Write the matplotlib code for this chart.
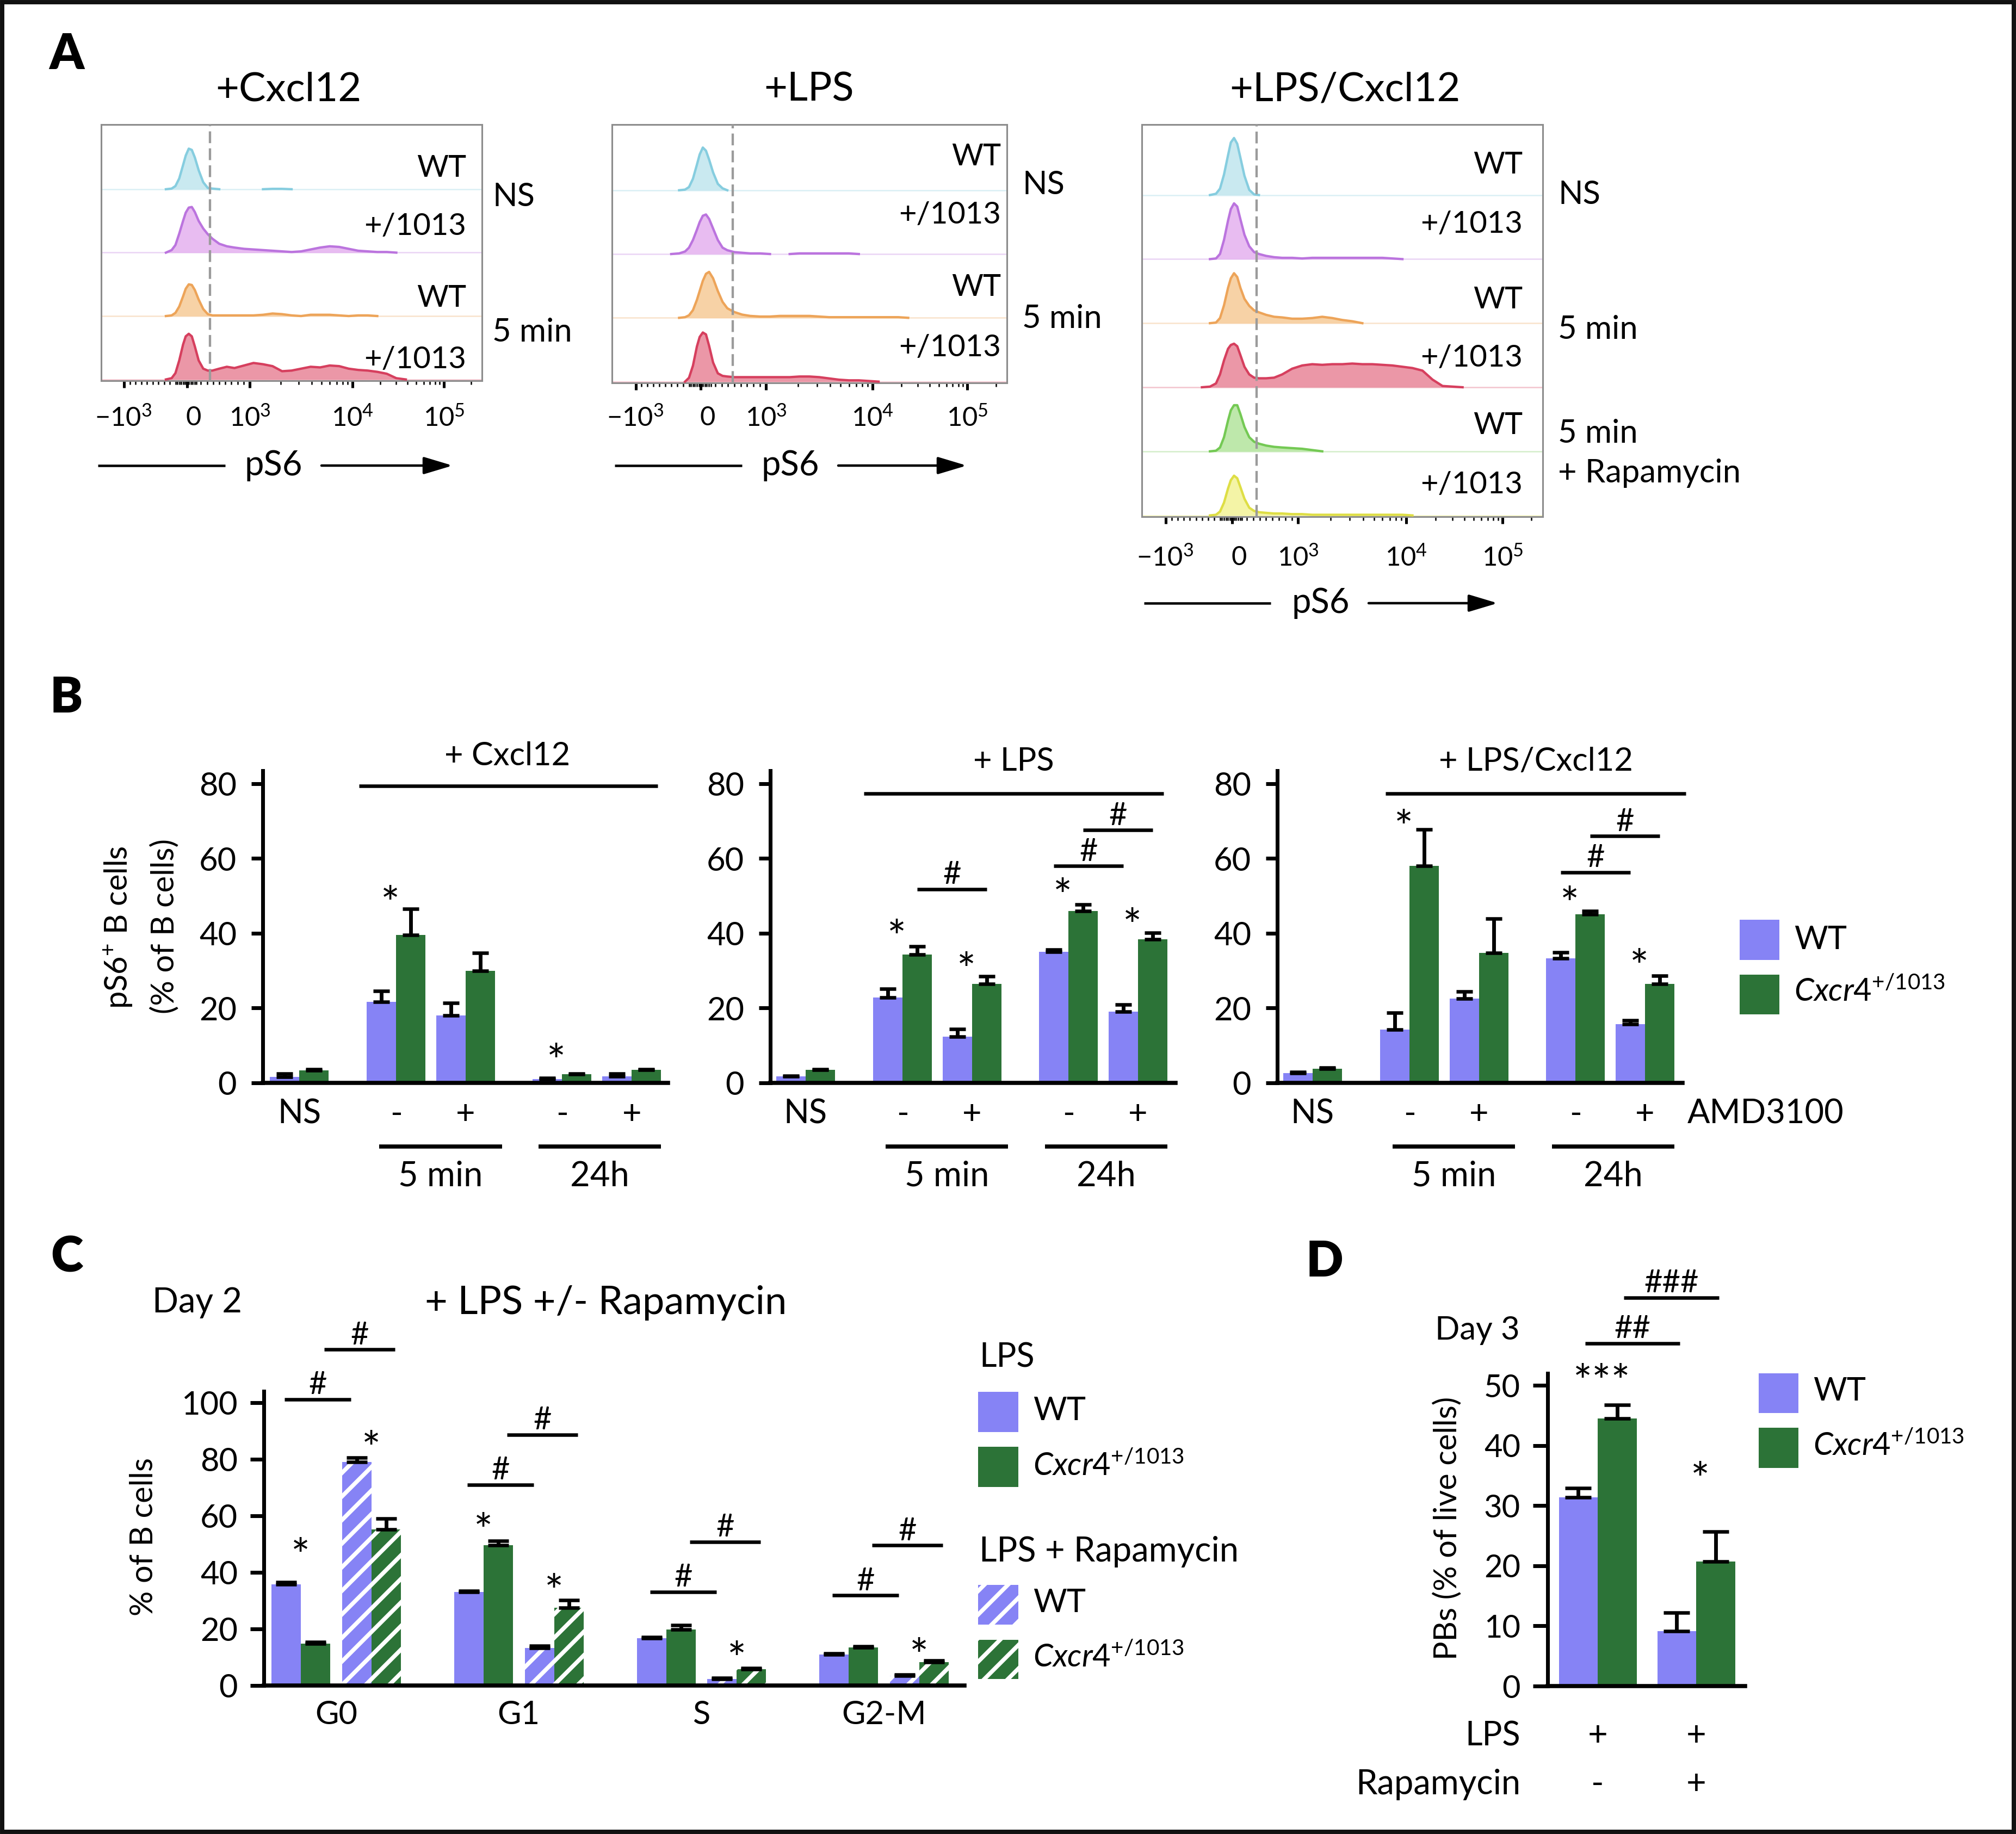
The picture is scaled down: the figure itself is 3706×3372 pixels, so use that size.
import numpy as np
import matplotlib
matplotlib.use('Agg')
import matplotlib.pyplot as plt
from matplotlib.patches import Rectangle

W, H = 3706, 3372
DPI = 130

plt.rcParams['font.family'] = ['Lato', 'DejaVu Sans']
plt.rcParams['mathtext.fontset'] = 'custom'
plt.rcParams['mathtext.rm'] = 'Lato'
plt.rcParams['mathtext.it'] = 'Lato:italic'
plt.rcParams['mathtext.bf'] = 'Lato:bold'
plt.rcParams['hatch.linewidth'] = 4.2

WT_COL = '#8683F5'
MUT_COL = '#2C7337'
MUT_LAB = r'$\mathit{Cxcr4}^{\mathit{+/1013}}$'

# ---------------- data ----------------
# panel A: flow histograms, heights as fraction of one row, on a channel grid (0-1000)
hist_ch = [150, 170, 185, 195, 205, 215, 222, 230, 238, 246, 256, 268, 280, 292, 310, 330, 350, 375,
           400, 425, 450, 475, 500, 525, 550, 575, 600, 625, 650, 675, 700, 725, 750, 775, 800]

cx_ns_wt = [0, 0, 0.01, 0.05, 0.17, 0.38, 0.53, 0.64, 0.62, 0.5, 0.3, 0.11, 0.02, 0.01, 0,
            0, 0, 0, 0, 0, 0.006, 0.006, 0, 0, 0, 0, 0, 0, 0, 0, 0, 0, 0, 0, 0]
cx_ns_mut = [0, 0, 0.04, 0.12, 0.3, 0.5, 0.63, 0.71, 0.72, 0.64, 0.5, 0.38, 0.29, 0.22, 0.14,
             0.1, 0.08, 0.06, 0.05, 0.04, 0.03, 0.02, 0.01, 0.02, 0.05, 0.08, 0.1, 0.09, 0.06, 0.03,
             0.02, 0.01, 0.01, 0, 0]
cx_5m_wt = [0, 0, 0.01, 0.05, 0.15, 0.31, 0.43, 0.5, 0.49, 0.41, 0.26, 0.11, 0.03, 0.01, 0.01,
            0.01, 0.01, 0.01, 0.01, 0.02, 0.04, 0.03, 0.01, 0, 0.02, 0.02, 0.02, 0.01, 0, 0.01,
            0.01, 0, 0, 0, 0]
cx_5m_mut = [0, 0, 0.02, 0.1, 0.3, 0.55, 0.68, 0.72, 0.68, 0.52, 0.3, 0.17, 0.14, 0.14, 0.17,
             0.2, 0.18, 0.22, 0.26, 0.24, 0.21, 0.13, 0.14, 0.17, 0.2, 0.19, 0.22, 0.21, 0.17, 0.15,
             0.14, 0.12, 0.09, 0.02, 0]

lps_ns_wt = [0, 0, 0.01, 0.05, 0.18, 0.4, 0.56, 0.67, 0.62, 0.48, 0.28, 0.1, 0.03, 0, 0,
             0, 0, 0, 0, 0, 0, 0, 0, 0, 0, 0, 0, 0, 0, 0, 0, 0, 0, 0, 0]
lps_ns_mut = [0, 0.01, 0.04, 0.1, 0.22, 0.38, 0.5, 0.6, 0.62, 0.55, 0.4, 0.22, 0.1, 0.06, 0.03,
              0.02, 0.01, 0.01, 0, 0, 0, 0.01, 0.01, 0.01, 0.01, 0.01, 0.01, 0, 0, 0,
              0, 0, 0, 0, 0]
lps_5m_wt = [0, 0, 0.01, 0.04, 0.12, 0.28, 0.42, 0.58, 0.69, 0.72, 0.62, 0.42, 0.25, 0.15, 0.09,
             0.05, 0.03, 0.02, 0.02, 0.03, 0.03, 0.03, 0.03, 0.02, 0.01, 0.01, 0.01, 0.01, 0.01, 0.01,
             0.01, 0.01, 0, 0, 0]
lps_5m_mut = [0, 0, 0, 0.06, 0.25, 0.55, 0.7, 0.77, 0.74, 0.56, 0.3, 0.13, 0.09, 0.08, 0.07,
              0.07, 0.07, 0.07, 0.07, 0.07, 0.07, 0.08, 0.08, 0.07, 0.05, 0.03, 0.02, 0.02, 0.01, 0,
              0, 0, 0, 0, 0]

lc_ns_wt = [0, 0, 0.02, 0.1, 0.32, 0.62, 0.82, 0.89, 0.8, 0.58, 0.3, 0.08, 0.01, 0, 0,
            0, 0, 0, 0, 0, 0, 0, 0, 0, 0, 0, 0, 0, 0, 0, 0, 0, 0, 0, 0]
lc_ns_mut = [0, 0, 0.01, 0.08, 0.3, 0.6, 0.78, 0.87, 0.82, 0.62, 0.38, 0.2, 0.11, 0.08, 0.05,
             0.03, 0.02, 0.02, 0.01, 0.02, 0.02, 0.02, 0.02, 0.02, 0.02, 0.02, 0.02, 0.01, 0, 0,
             0, 0, 0, 0, 0]
lc_5m_wt = [0, 0, 0.01, 0.08, 0.28, 0.55, 0.7, 0.78, 0.72, 0.55, 0.38, 0.27, 0.2, 0.17, 0.13,
            0.1, 0.09, 0.07, 0.07, 0.08, 0.1, 0.08, 0.05, 0.03, 0, 0, 0, 0, 0, 0,
            0, 0, 0, 0, 0]
lc_5m_mut = [0, 0.01, 0.06, 0.2, 0.42, 0.6, 0.66, 0.68, 0.64, 0.5, 0.32, 0.2, 0.15, 0.14, 0.14,
             0.15, 0.2, 0.29, 0.34, 0.36, 0.35, 0.36, 0.36, 0.37, 0.36, 0.36, 0.35, 0.34, 0.32, 0.3,
             0.26, 0.12, 0.02, 0.01, 0]
lc_rapa_wt = [0, 0, 0.01, 0.06, 0.22, 0.48, 0.64, 0.72, 0.72, 0.58, 0.38, 0.22, 0.15, 0.12, 0.09,
              0.07, 0.06, 0.05, 0.04, 0.02, 0, 0, 0, 0, 0, 0, 0, 0, 0, 0, 0, 0, 0, 0, 0]
lc_rapa_mut = [0, 0, 0.01, 0.06, 0.2, 0.42, 0.55, 0.62, 0.58, 0.44, 0.26, 0.12, 0.07, 0.05, 0.04,
               0.03, 0.03, 0.02, 0.02, 0.01, 0.01, 0.01, 0.01, 0.01, 0.01, 0.01, 0.01, 0.01, 0.01, 0,
               0, 0, 0, 0, 0]

# panel B: pS6+ B cells (% of B cells), groups NS, 5min -/+, 24h -/+
b_groups = ['NS', '-', '+', '-', '+']
cxcl_wt = [1.6, 21.7, 18.1, 1.0, 1.7]
cxcl_wt_err = [0.9, 2.9, 3.3, 0.3, 0.8]
cxcl_mut = [3.3, 39.6, 30.0, 2.3, 3.5]
cxcl_mut_err = [0.3, 6.9, 4.7, 0.2, 0.2]
lps_wt = [1.7, 22.8, 12.4, 35.1, 19.0]
lps_wt_err = [0.2, 2.4, 2.0, 0.5, 1.9]
lps_mut = [3.5, 34.3, 26.4, 46.0, 38.4]
lps_mut_err = [0.2, 2.2, 2.1, 1.7, 1.8]
lc_wt = [2.6, 14.2, 22.5, 33.3, 15.7]
lc_wt_err = [0.3, 4.6, 1.9, 1.6, 1.0]
lc_mut = [3.8, 58.0, 34.8, 45.1, 26.5]
lc_mut_err = [0.3, 9.8, 9.1, 0.9, 2.1]
# significance: stars (group, y) and '#' bars (group a, group b, genotype, y)
cxcl_stars = [(1, 50.8), (3, 8.6)]
lps_stars = [(1, 41.7), (2, 33.0), (3, 52.8), (4, 44.8)]
lc_stars = [(1, 71.1), (3, 50.6), (4, 33.9)]
lps_hash = [(1, 2, 'mut', 51.8), (3, 4, 'wt', 58.0), (3, 4, 'mut', 67.6)]
lc_hash = [(3, 4, 'wt', 56.3), (3, 4, 'mut', 66.0)]

# panel C: cell cycle, % of B cells
phases = ['G0', 'G1', 'S', 'G2-M']
c_wt_lps = [35.8, 33.1, 16.8, 11.0]
c_wt_lps_err = [0.7, 0.3, 0.4, 0.4]
c_mut_lps = [14.8, 49.7, 19.8, 13.4]
c_mut_lps_err = [0.6, 1.5, 1.6, 0.4]
c_wt_rapa = [79.0, 13.3, 2.3, 3.5]
c_wt_rapa_err = [1.6, 0.8, 0.4, 0.3]
c_mut_rapa = [55.2, 27.5, 5.8, 8.3]
c_mut_rapa_err = [3.8, 2.7, 0.3, 0.6]
c_stars = [(0, 'lps', 49.6), (0, 'rapa', 87.5), (1, 'lps', 58.5), (1, 'rapa', 36.9),
           (2, 'rapa', 13.1), (3, 'rapa', 14.2)]
c_hash_wt = [101.2, 71.0, 33.1, 31.9]
c_hash_mut = [118.8, 88.7, 50.8, 49.6]

# panel D: PBs (% of live cells), day 3
d_wt = [31.4, 9.1]
d_wt_err = [1.5, 3.1]
d_mut = [44.5, 20.7]
d_mut_err = [2.2, 5.0]
d_stars = [(0, '***', 52.3), (1, '*', 36.1)]
d_hash = [('wt', '##', 57.0), ('mut', '###', 64.6)]

# ---------------- figure ----------------
fig = plt.figure(figsize=((W + 0.01) / DPI, (H + 0.01) / DPI), dpi=DPI)
fig.patch.set_facecolor('white')

ov = fig.add_axes([0, 0, 1, 1])
ov.set_zorder(10)
ov.set_xlim(0, W)
ov.set_ylim(H, 0)
ov.axis('off')


def px_axes(x0, y0, x1, y1):
    return fig.add_axes([x0 / W, 1 - y1 / H, (x1 - x0) / W, (y1 - y0) / H])


def txt(x, y, s, size, ha='center', va='center', **kw):
    ov.text(x, y, s, fontsize=size, ha=ha, va=va, **kw)


# ----- panel A -----
major_ch = [60, 225, 390, 660, 900]
minor_ch = (list(range(75, 200, 15)) + list(range(200, 255, 5)) + list(range(262, 390, 16))
            + list(390 + 270 * np.log10(np.arange(2, 10))) + list(660 + 240 * np.log10(np.arange(2, 10)))
            + [972])
tick_labels = [r'$\mathregular{-10^3}$', '0', r'$\mathregular{10^3}$',
               r'$\mathregular{10^4}$', r'$\mathregular{10^5}$']
label_ch = [58, 242, 390, 660, 900]

cyan = ('#C3E7EF', '#86CDDF')
purple = ('#E6B5F0', '#BB74DE')
orange = ('#F7CD9C', '#EDA459')
red = ('#E98C9E', '#D63F5E')
green = ('#B7E6A2', '#74C954')
yellow = ('#F3F39C', '#DEDE45')


def flow_panel(box, rows, top, dash_ch, label_y):
    x0, y0, x1, y1 = box
    ax = px_axes(x0, y0, x1, y1)
    n = len(rows)
    for k, (vals, (fill, edge)) in enumerate(rows):
        base = n - 1 - k
        v = np.asarray(vals, dtype=float)
        ax.axhline(base, color=edge, lw=1.4, alpha=0.3, zorder=1)
        yy = base + v
        ax.fill_between(hist_ch, base, yy, color=fill, lw=0, alpha=0.9, zorder=2)
        keep = (v > 0) | (np.roll(v, 1) > 0) | (np.roll(v, -1) > 0)
        ax.plot(hist_ch, np.where(keep, yy, np.nan), color=edge, lw=2.4, zorder=3)
    ax.axvline(dash_ch, color='#9b9b9b', lw=2.4, ls=(0, (5, 2.2)), zorder=4)
    ax.set_xlim(0, 1000)
    ax.set_ylim(-0.02, top)
    ax.set_yticks([])
    ax.set_xticks(major_ch)
    ax.set_xticks(minor_ch, minor=True)
    ax.tick_params(axis='x', which='major', length=7, width=2.8, labelbottom=False)
    ax.tick_params(axis='x', which='minor', length=4, width=1.4)
    for s in ax.spines.values():
        s.set_color('#8c8c8c')
        s.set_linewidth(1.7)
    for ch, lab in zip(label_ch, tick_labels):
        txt(x0 + ch / 1000 * (x1 - x0), label_y, lab, 27)
    return ax


flow_panel((186, 229, 886, 700),
           [(cx_ns_wt, cyan), (cx_ns_mut, purple), (cx_5m_wt, orange), (cx_5m_mut, red)],
           4.02, 286, 768)
flow_panel((1125, 229, 1851, 704),
           [(lps_ns_wt, cyan), (lps_ns_mut, purple), (lps_5m_wt, orange), (lps_5m_mut, red)],
           4.03, 306, 768)
flow_panel((2099, 229, 2836, 950),
           [(lc_ns_wt, cyan), (lc_ns_mut, purple), (lc_5m_wt, orange), (lc_5m_mut, red),
            (lc_rapa_wt, green), (lc_rapa_mut, yellow)],
           6.1, 286, 1025)

txt(530, 165, '+Cxcl12', 41)
txt(1487, 165, '+LPS', 41)
txt(2472, 165, '+LPS/Cxcl12', 41)

for x, ys in [(857, [309, 416, 548, 661]), (1840, [288, 395, 528, 639]),
              (2799, [303, 412, 551, 658, 782, 891])]:
    for i, y in enumerate(ys):
        txt(x, y, 'WT' if i % 2 == 0 else '+/1013', 31, ha='right')

for x, y, s in [(905, 362, 'NS'), (905, 611, '5 min'), (1879, 340, 'NS'), (1879, 586, '5 min'),
                (2864, 358, 'NS'), (2864, 606, '5 min'), (2864, 797, '5 min'),
                (2864, 870, '+ Rapamycin')]:
    txt(x, y, s, 33, ha='left')

for xa, xb, xc, xd, xt, y in [(180, 414, 591, 832, 503, 856), (1130, 1364, 1541, 1777, 1453, 856),
                              (2103, 2336, 2516, 2753, 2428, 1109)]:
    ov.plot([xa, xb], [y, y], color='black', lw=2.5, solid_capstyle='butt')
    ov.annotate('', xy=(xd, y), xytext=(xc, y),
                arrowprops=dict(arrowstyle='-|>,head_length=1.0,head_width=0.3', mutation_scale=25,
                                lw=2.5, color='black', shrinkA=0, shrinkB=0))
    txt(xt, y, 'pS6', 35)

# ----- panel B -----
b_x = np.array([0, 3.3, 5.67, 8.95, 11.32])
B_PX = 6.875  # px per unit
STAR = 46


def style_bar_axes(ax, tick_len, pad, size):
    for s in ['top', 'right']:
        ax.spines[s].set_visible(False)
    ax.spines['left'].set_linewidth(3.9)
    ax.spines['bottom'].set_linewidth(4.2)
    ax.tick_params(axis='x', bottom=False, labelbottom=False)
    ax.tick_params(axis='y', length=tick_len, width=3.9, pad=pad, labelsize=size)


def sig_line(ax, xa, xb, y, mark, size=32):
    ax.plot([xa, xb], [y, y], color='black', lw=3.6, clip_on=False, solid_capstyle='butt')
    ax.annotate(mark, ((xa + xb) / 2, y), xytext=(0, 14.4), textcoords='offset points',
                ha='center', va='center', fontsize=size, annotation_clip=False)


def star(ax, x, y, mark='*', size=STAR):
    ax.annotate(mark, (x, y), xytext=(0, -0.3 * size), textcoords='offset points',
                ha='center', va='center', fontsize=size, annotation_clip=False)


def b_panel(left, x0, wt, wt_err, mut, mut_err, stars, hashes, top_line, title, title_xy):
    ax = px_axes(left, 1991 - 83.5 * B_PX, left + 745, 1991)
    ax.set_xlim(x0, x0 + 745 / 54)
    ax.set_ylim(0, 83.5)
    style_bar_axes(ax, 11.6, 15, 33)
    ax.set_yticks([0, 20, 40, 60, 80])
    ax.bar(b_x - 0.5, wt, 1, color=WT_COL, lw=0, zorder=2)
    ax.bar(b_x + 0.5, mut, 1, color=MUT_COL, lw=0, zorder=2)
    ax.errorbar(b_x - 0.5, wt, yerr=[np.zeros(5), wt_err], fmt='none', ecolor='black',
                elinewidth=3.8, capsize=8.3, capthick=3.6, zorder=3)
    ax.errorbar(b_x + 0.5, mut, yerr=[np.zeros(5), mut_err], fmt='none', ecolor='black',
                elinewidth=3.8, capsize=8.3, capthick=3.6, zorder=3)
    for g, y in stars:
        star(ax, b_x[g] - 0.2, y)
    for ga, gb, geno, y in hashes:
        off = -0.5 if geno == 'wt' else 0.5
        sig_line(ax, b_x[ga] + off, b_x[gb] + off, y, '#')
    xa, xb, y = top_line
    ax.plot([xa, xb], [y, y], color='black', lw=3.6, clip_on=False, solid_capstyle='butt')
    ax.text(title_xy[0], title_xy[1], title, ha='center', va='center', fontsize=33)
    for x, lab in zip(b_x, b_groups):
        ax.text(x, -8.3, lab, ha='center', va='center', fontsize=34)
    for xa, xb, lab in [(b_x[1] - 0.57, b_x[2] + 1.23, '5 min'), (b_x[3] - 0.8, b_x[4] + 1.0, '24h')]:
        ax.plot([xa, xb], [-17.0, -17.0], color='black', lw=4.2, clip_on=False, solid_capstyle='butt')
        ax.text((xa + xb) / 2, -25.0, lab, ha='center', va='center', fontsize=35)
    return ax


b_panel(483, -1.24, cxcl_wt, cxcl_wt_err, cxcl_mut, cxcl_mut_err, cxcl_stars, [],
        (2.04, 12.2, 79.4), '+ Cxcl12', (7.09, 87.4))
b_panel(1416, -1.2, lps_wt, lps_wt_err, lps_mut, lps_mut_err, lps_stars, lps_hash,
        (1.98, 12.19, 77.4), '+ LPS', (7.09, 86.0))
ax_b3 = b_panel(2348, -1.2, lc_wt, lc_wt_err, lc_mut, lc_mut_err, lc_stars, lc_hash,
                (2.48, 12.7, 77.4), '+ LPS/Cxcl12', (7.6, 86.0))
ax_b3.text(12.76, -8.3, 'AMD3100', ha='left', va='center', fontsize=34)

txt(217, 1705, r'pS6$^{+}$ B cells', 32, rotation=90)
txt(303, 1703, '(% of B cells)', 32, rotation=90)

ov.add_patch(Rectangle((3198, 1691), 73, 74, facecolor=WT_COL, lw=0))
ov.add_patch(Rectangle((3198, 1792), 73, 73, facecolor=MUT_COL, lw=0))
txt(3298, 1728, 'WT', 33, ha='left')
txt(3298, 1823, MUT_LAB, 32, ha='left')

# ----- panel C -----
c_x = np.array([0, 6.22, 12.44, 18.65])
c_off = [-1.7, -0.7, 0.7, 1.7]
ax_c = px_axes(485, 3099 - 104 * 5.2, 485 + 23.85 * 54, 3099)
ax_c.set_xlim(-2.46, 21.39)
ax_c.set_ylim(0, 104)
style_bar_axes(ax_c, 13.8, 12.7, 33)
ax_c.set_yticks([0, 20, 40, 60, 80, 100])
series_c = [(c_wt_lps, c_wt_lps_err, WT_COL, None), (c_mut_lps, c_mut_lps_err, MUT_COL, None),
            (c_wt_rapa, c_wt_rapa_err, WT_COL, '/'), (c_mut_rapa, c_mut_rapa_err, MUT_COL, '/')]
for off, (vals, errs, col, hatch) in zip(c_off, series_c):
    if hatch:
        ax_c.bar(c_x + off, vals, 1, color=col, edgecolor='white', hatch=hatch, lw=0, zorder=2)
    else:
        ax_c.bar(c_x + off, vals, 1, color=col, lw=0, zorder=2)
    ax_c.errorbar(c_x + off, vals, yerr=[np.zeros(4), errs], fmt='none', ecolor='black',
                  elinewidth=3.8, capsize=10.5, capthick=3.6, zorder=3)
for g, pair, y in c_stars:
    star(ax_c, c_x[g] + (-1.2 if pair == 'lps' else 1.2), y)
for g in range(4):
    sig_line(ax_c, c_x[g] + c_off[0] - 0.05, c_x[g] + c_off[2] - 0.2, c_hash_wt[g], '#')
    sig_line(ax_c, c_x[g] + c_off[1] + 0.3, c_x[g] + c_off[3] + 0.3, c_hash_mut[g], '#')
for x, lab in zip(c_x, phases):
    ax_c.text(x, -10.4, lab, ha='center', va='center', fontsize=33)

txt(264, 2825, '% of B cells', 32, rotation=90)
txt(280, 2395, 'Day 2', 35, ha='left')
txt(781, 2395, '+ LPS +/- Rapamycin', 40, ha='left')

txt(1800, 2496, 'LPS', 34, ha='left')
ov.add_patch(Rectangle((1798, 2559), 74, 74, facecolor=WT_COL, lw=0))
ov.add_patch(Rectangle((1798, 2660), 74, 74, facecolor=MUT_COL, lw=0))
txt(1899, 2594, 'WT', 33, ha='left')
txt(1899, 2695, MUT_LAB, 32, ha='left')
txt(1800, 2853, 'LPS + Rapamycin', 35, ha='left')
ov.add_patch(Rectangle((1798, 2914), 74, 73, facecolor=WT_COL, edgecolor='white', hatch='/', lw=0))
ov.add_patch(Rectangle((1798, 3015), 74, 72, facecolor=MUT_COL, edgecolor='white', hatch='/', lw=0))
txt(1899, 2947, 'WT', 33, ha='left')
txt(1899, 3047, MUT_LAB, 32, ha='left')

# ----- panel D -----
d_x = np.array([0, 2.53])
ax_d = px_axes(2845, 3100 - 52 * 11.06, 2845 + 5.08 * 71.5, 3100)
ax_d.set_xlim(-1.29, 3.79)
ax_d.set_ylim(0, 52)
style_bar_axes(ax_d, 15, 12.7, 32)
ax_d.set_yticks([0, 10, 20, 30, 40, 50])
ax_d.bar(d_x - 0.5, d_wt, 1, color=WT_COL, lw=0, zorder=2)
ax_d.bar(d_x + 0.5, d_mut, 1, color=MUT_COL, lw=0, zorder=2)
ax_d.errorbar(d_x - 0.5, d_wt, yerr=[np.zeros(2), d_wt_err], fmt='none', ecolor='black',
              elinewidth=3.8, capsize=13.5, capthick=3.6, zorder=3)
ax_d.errorbar(d_x + 0.5, d_mut, yerr=[np.zeros(2), d_mut_err], fmt='none', ecolor='black',
              elinewidth=3.8, capsize=13.5, capthick=3.6, zorder=3)
for g, mark, y in d_stars:
    star(ax_d, d_x[g] + 0.1, y, mark)
for geno, mark, y in d_hash:
    off = -0.5 if geno == 'wt' else 0.5
    sig_line(ax_d, d_x[0] + off + 0.17, d_x[1] + off + 0.08, y, mark)
for x, a, b in zip(d_x, ['+', '+'], ['-', '+']):
    ax_d.text(x, -8.3, a, ha='center', va='center', fontsize=35)
    ax_d.text(x, -16.4, b, ha='center', va='center', fontsize=35)

txt(2795, 3192, 'LPS', 34, ha='right')
txt(2795, 3281, 'Rapamycin', 35, ha='right')
txt(2794, 2446, 'Day 3', 33, ha='right')
txt(2661, 2810, 'PBs (% of live cells)', 32, rotation=90)
ov.add_patch(Rectangle((3233, 2525), 73, 73, facecolor=WT_COL, lw=0))
ov.add_patch(Rectangle((3233, 2625), 73, 74, facecolor=MUT_COL, lw=0))
txt(3333, 2558, 'WT', 33, ha='left')
txt(3333, 2658, MUT_LAB, 32, ha='left')

# panel letters and frame
for x, y, s in [(122, 100, 'A'), (122, 1283, 'B'), (123, 2312, 'C'), (2435, 2320, 'D')]:
    txt(x, y, s, 50, fontweight='heavy')
ov.add_patch(Rectangle((4, 4), W - 8, H - 8, fill=False, edgecolor='#111111', lw=4.4))

fig.savefig('out.png', dpi=DPI, facecolor='white')
